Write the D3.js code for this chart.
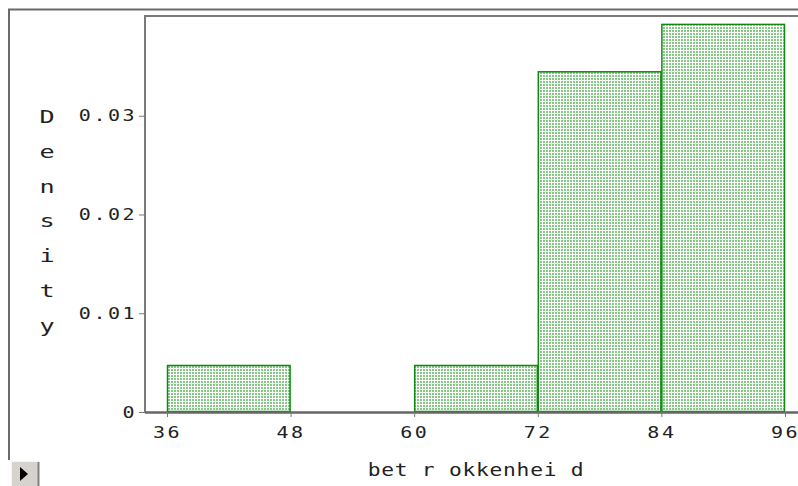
<!DOCTYPE html>
<html>
<head>
<meta charset="utf-8">
<script src="https://cdn.jsdelivr.net/npm/d3@7"></script>
<style>
  body { margin: 0; background: #fff; }
  svg { display: block; }
  text { font-family: "DejaVu Sans Mono", monospace; fill: #222; }
</style>
</head>
<body>
<svg width="798" height="486"></svg>
<script>
// histogram bins (width 12) and densities
const binStarts = [36, 48, 60, 72, 84];
const binWidth = 12;
const density = [0.00476, 0, 0.00476, 0.0345, 0.0393];
const xTicks = [36, 48, 60, 72, 84, 96];
const yTicks = [0, 0.01, 0.02, 0.03];
const yTickLabels = ["0", "0.01", "0.02", "0.03"];
const yTitle = "Density";
const xTitle = "bet r okkenhei d";

const svg = d3.select("svg");
const sx = 1.25; // wide pixel-font look

const x = d3.scaleLinear().domain([36, 96]).range([167, 785]);
const y = d3.scaleLinear().domain([0, 0.0401]).range([412, 16]);

// stipple fill
const defs = svg.append("defs");
const pat = defs.append("pattern")
    .attr("id", "dots")
    .attr("patternUnits", "userSpaceOnUse")
    .attr("width", 3).attr("height", 3);
pat.append("rect").attr("width", 3).attr("height", 3).attr("fill", "#fff");
pat.append("rect").attr("width", 2).attr("height", 2).attr("fill", "#86c986");

// outer frame
svg.append("path")
    .attr("d", "M9,460 V9.5 H798")
    .attr("fill", "none").attr("stroke", "#6a6a6a").attr("stroke-width", 2);

// plot frame top + left
svg.append("path")
    .attr("d", "M145,412 V16 H798")
    .attr("fill", "none").attr("stroke", "#7a7a7a").attr("stroke-width", 2);

// bars
svg.append("g").selectAll("rect")
    .data(binStarts.map((s, i) => ({ s, d: density[i] })).filter(b => b.d > 0))
    .join("rect")
    .attr("x", b => x(b.s) + 0.5)
    .attr("y", b => y(b.d) + 0.5)
    .attr("width", b => x(b.s + binWidth) - x(b.s) - 1)
    .attr("height", b => y(0) - y(b.d) - 1)
    .attr("fill", "url(#dots)")
    .attr("stroke", "#108a10")
    .attr("stroke-width", 1.5);

// x axis
const gx = svg.append("g")
    .attr("transform", "translate(0,412)")
    .call(d3.axisBottom(x).tickValues(xTicks).tickSize(5).tickPadding(10).tickSizeOuter(0));
gx.select(".domain").attr("d", "M145,0.5H798").attr("stroke", "#666").attr("stroke-width", 2.5);
gx.selectAll(".tick line").attr("stroke", "#777");
gx.selectAll(".tick text")
    .attr("font-size", 16)
    .attr("letter-spacing", 2)
    .attr("font-family", "DejaVu Sans Mono")
    .attr("fill", "#222")
    .attr("transform", `scale(${sx},1)`);

// y axis
const gy = svg.append("g")
    .attr("transform", "translate(145,0)")
    .call(d3.axisLeft(y).tickValues(yTicks).tickFormat((d, i) => yTickLabels[i])
        .tickSize(6).tickPadding(2).tickSizeOuter(0));
gy.select(".domain").remove();
gy.selectAll(".tick line").attr("stroke", "#777");
gy.selectAll(".tick text")
    .attr("font-size", 16)
    .attr("letter-spacing", 2)
    .attr("font-family", "DejaVu Sans Mono")
    .attr("fill", "#222")
    .attr("x", -8 / sx)
    .attr("transform", `scale(${sx},1)`);

// y title, stacked letters
svg.append("g").selectAll("text")
    .data(yTitle.split(""))
    .join("text")
    .attr("text-anchor", "middle")
    .attr("font-size", 18)
    .attr("transform", (c, i) => `translate(47,${123 + i * 34.8}) scale(1.4,1)`)
    .text(c => c);

// x title
svg.append("text")
    .attr("text-anchor", "middle")
    .attr("font-size", 17)
    .attr("letter-spacing", 0.6)
    .attr("transform", `translate(476,476) scale(${sx},1)`)
    .text(xTitle);

// little play button bottom-left
const btn = svg.append("g");
btn.append("rect").attr("x", 11).attr("y", 461).attr("width", 28).attr("height", 25)
    .attr("fill", "#d6d3ce");
btn.append("path").attr("d", "M11.5,486 V461.5 H39").attr("fill", "none").attr("stroke", "#f4f4f4");
btn.append("path").attr("d", "M38.5,462 V486").attr("fill", "none").attr("stroke", "#808080").attr("stroke-width", 2);
btn.append("path").attr("d", "M20,467 L28,474 L20,481 Z").attr("fill", "#000");
</script>
</body>
</html>
